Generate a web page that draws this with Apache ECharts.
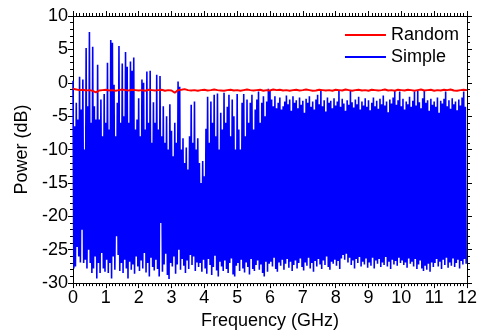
<!DOCTYPE html>
<html><head><meta charset="utf-8">
<script src="https://cdn.jsdelivr.net/npm/echarts@6/dist/echarts.min.js"></script>
<style>html,body{margin:0;padding:0;background:#fff}#c{width:480px;height:335px}</style>
</head><body><div id="c"></div>
<script>
// Frequency step of the read-off samples (GHz)
const step = 0.05;
// "Simple" series: local maxima, one every 0.05 GHz
const simplePeaks = [
0.3,-6.5,-3,-5.5,0.9,-4,0.5,-10,5.2,-3.5,7.6,-6,5.4,-3.5,-5.5,2.7,-5.5,-2.5,-8,-1.7,
-6,3.0,-7,6.4,6.0,-0.3,-8,-3,5.5,-6,2.9,-5,4.6,2.4,-6,3.2,1.8,3.8,-7,-5.5,
-2.3,-8,0.5,0,-7,1.7,-6,1.8,-9,-2.9,-6,1.2,-7,1.0,-8,-3.5,-9,-5,-10,-3.2,
-7.2,-11,-6,-9,0.2,-0.6,-10,-8.3,-12,-9.7,-13,-8,-3.3,-9,-2.8,-10,-8.3,-12,-15,-11.7,
-14,-6.9,-2.1,-9,-2.8,-6,-1.8,-8,-1.6,-10,-4.5,-7,-1.5,-6,-3.6,-1.8,-8,-2.5,-5,-10,
-1.7,-7,-10,-3,-1.7,-8,-2.5,-6,-3,-1.8,-7,-4,-2.5,-1.3,-6,-3,-2,-5,-2.8,-0.9,
-1.2,-2.5,-3.5,-2,-3.8,-3,-2.2,-4,-3.5,-2.8,-1.9,-3.2,-2.5,-4.2,-2,-3,-2.6,-3.8,-2.2,-3.3,
-2.7,-4.5,-2.4,-3,-2,-3.6,-2.8,-4,-2.5,-1.8,-3.2,-1.1,-3.5,-2.6,-4.3,-2.2,-3,-2.7,-3.8,-2.3,
-3.4,-2.8,-1.2,-3.6,-2.4,-3.1,-4.2,-2.6,-3.3,-1.2,-2.9,-3.7,-2.5,-3.2,-2.1,-4,-2.8,-3.4,-2.3,-3.6,
-2.6,-4.1,-3,-2.2,-3.5,-2.7,-3.9,-2.4,-3.2,-1.9,-3.4,-2.8,-4.4,-2.5,-3.1,-2.2,-1.2,-3.3,-2.6,-1.3,
-3.5,-2.4,-4,-2.8,-3.2,-2.1,-3.6,-2.7,-1.3,-3.4,-1.1,-2.9,-3.8,-2.3,-1.2,-3,-2.6,-4.2,-2.4,-3.3,
-2.8,-3.6,-2.2,-4.5,-2.7,-3.1,-2.4,-1.3,-3.5,-2.6,-3.9,-2.3,-3.2,-2.8,-4.1,-2.5,-3.4,-2.2,-1.3,-3.6
];
// "Simple" series: local minima, half a step after each peak
const simpleTroughs = [
-27.8,-27.5,-24.6,-26,-26.9,-22,-27,-26.5,-27.8,-25,-27,-28.5,-27.8,-26,-29.3,-27,-28.5,-25.5,-27.8,-28.3,
-26.5,-28.5,-27,-29.3,-26,-28,-23,-25.8,-28.2,-27,-28.5,-26.5,-27.8,-29.3,-26.8,-28,-27.2,-28.6,-26,-27.5,
-28.2,-26.6,-27.8,-25.5,-28.4,-27,-29,-26.2,-27.6,-28.1,-26.5,-27.9,-29,-21,-28.3,-27.2,-25.6,-28.8,-29.4,-27,
-27.5,-26,-28.6,-27.2,-25,-28,-26.4,-27.4,-28.5,-26.6,-27.9,-25.8,-27.3,-26,-28.2,-26.9,-27.6,-27,-28.3,-26.5,
-27.8,-28.6,-26.4,-27.3,-28.8,-27.6,-25.9,-28.1,-29,-26.8,-27.5,-28.2,-26.6,-27.9,-28.5,-27,-26.3,-28.7,-29,-27.4,
-27,-28.2,-26.5,-27.8,-28.4,-26.9,-27.6,-28.7,-26.4,-27.9,-28.2,-27.3,-26.6,-28,-27.2,-28.5,-29,-26.8,-28.3,-27.1,
-26.8,-27.5,-26.2,-27.9,-28.3,-26.9,-27.4,-26.5,-28,-27.1,-26.4,-27.7,-26.8,-28.2,-27.3,-26.6,-27.8,-27,-26.3,-27.6,
-28.1,-26.9,-27.4,-26.2,-27.8,-27,-28.3,-26.7,-27.5,-26.4,-27.2,-27.9,-26.6,-27.3,-26,-27.6,-28,-26.8,-27.1,-26.5,
-27.4,-26.7,-27.9,-26.3,-25.8,-26.5,-25.6,-26.9,-26.2,-27.3,-26.6,-27.8,-26.4,-27,-26.1,-27.5,-26.8,-27.2,-26.3,-27.7,
-26.9,-27.4,-26.2,-27.8,-26.6,-27.1,-26.4,-27.6,-26.9,-27.3,-26.1,-27.5,-26.8,-27.9,-26.5,-27.2,-26.7,-27.4,-26.2,-27,
-26.6,-27.3,-26.9,-27.7,-26.3,-27.1,-26.8,-27.5,-26.4,-27.9,-27.2,-26.6,-27.8,-28.2,-27.4,-28,-27.1,-28.3,-26.9,-27.6,
-27,-26.4,-27.5,-26.8,-27.9,-26.5,-27.3,-26.2,-27.7,-26.9,-27.4,-26.3,-27.6,-27,-26.5,-27.8,-26.7,-27.2,-26.4,-27.1
];
// "Random" series, one value every 0.1 GHz
const randomStep = 0.1;
const randomVals = [
-0.9,-1.0,-1.1,-1.05,-1.15,-1.1,-1.2,-1.45,-1.15,-1.1,-1.05,-1.15,-1.1,-1.2,-1.1,-1.0,-1.1,-1.15,-1.05,-1.1,
-1.15,-1.1,-1.2,-1.05,-1.1,-1.15,-1.1,-1.05,-1.2,-1.1,-1.15,-1.5,-1.1,-1.05,-0.95,-1.1,-1.15,-1.1,-1.2,-1.1,
-1.05,-1.15,-1.1,-1.0,-1.1,-1.15,-1.2,-1.1,-1.05,-1.15,-1.1,-1.2,-1.1,-1.0,-1.1,-1.15,-1.1,-1.05,-1.2,-1.1,
-1.15,-1.0,-1.1,-1.05,-1.15,-1.1,-1.2,-1.1,-1.05,-1.15,-1.1,-1.0,-1.1,-1.2,-1.15,-1.05,-1.1,-1.15,-1.1,-1.2,
-1.05,-1.1,-1.15,-1.0,-1.1,-1.2,-1.1,-1.05,-1.15,-1.1,-1.2,-1.05,-1.1,-1.15,-1.1,-1.0,-1.15,-1.1,-1.2,-1.05,
-1.1,-1.15,-1.05,-1.1,-1.2,-1.1,-1.0,-1.15,-1.1,-1.05,-1.2,-1.1,-1.15,-1.05,-1.1,-1.0,-1.15,-1.2,-1.1,-1.05,-1.1
];
const xTicks = [0,1,2,3,4,5,6,7,8,9,10,11,12];
const yTicks = [10,5,0,-5,-10,-15,-20,-25,-30];

const simpleData = [];
for (let i = 0; i < simplePeaks.length; i++) {
  simpleData.push([i*step, simplePeaks[i]]);
  simpleData.push([i*step + step/2, simpleTroughs[i]]);
}
const randomData = randomVals.map((v,i)=>[i*randomStep, v]);

const font = 'Liberation Sans, Arial, Helvetica, sans-serif';
const lineBlack = {show:true,onZero:false,lineStyle:{color:'#000',width:1}};
const tickOut = {show:true,inside:false,length:5,lineStyle:{color:'#000'}};
const chart = echarts.init(document.getElementById('c'), null, {renderer:'canvas'});
chart.setOption({
  animation:false,
  backgroundColor:'#fff',
  grid:{left:73,right:9,top:16,bottom:50,containLabel:false},
  legend:{
    data:['Random','Simple'], orient:'vertical', right:16, top:21,
    itemWidth:41, itemHeight:2, itemGap:4, icon:'rect',
    textStyle:{fontFamily:font,fontSize:18,color:'#000',padding:[0,0,0,0]}
  },
  xAxis:[
    {type:'value',min:xTicks[0],max:xTicks[xTicks.length-1],interval:1,position:'bottom',
      axisLine:lineBlack,axisTick:tickOut,splitLine:{show:false},
      minorTick:{show:true,splitNumber:10,length:3,lineStyle:{color:'#000'}},
      name:'Frequency (GHz)',nameLocation:'middle',nameGap:28,
      nameTextStyle:{fontFamily:font,fontSize:18,color:'#000'},
      axisLabel:{fontFamily:font,fontSize:18,color:'#000',margin:6}},
    {type:'value',min:0,max:12,interval:1,position:'top',
      axisLine:lineBlack,axisTick:tickOut,
      minorTick:{show:true,splitNumber:10,length:3,lineStyle:{color:'#000'}},
      axisLabel:{show:false},splitLine:{show:false}}
  ],
  yAxis:[
    {type:'value',min:yTicks[yTicks.length-1],max:yTicks[0],interval:5,position:'left',
      axisLine:lineBlack,axisTick:tickOut,
      minorTick:{show:true,splitNumber:5,length:3,lineStyle:{color:'#000'}},
      splitLine:{show:false},
      name:'Power (dB)',nameLocation:'middle',nameGap:42,nameRotate:90,
      nameTextStyle:{fontFamily:font,fontSize:18,color:'#000'},
      axisLabel:{fontFamily:font,fontSize:18,color:'#000',margin:5}},
    {type:'value',min:-30,max:10,interval:5,position:'right',
      axisLine:lineBlack,axisTick:tickOut,
      minorTick:{show:true,splitNumber:5,length:3,lineStyle:{color:'#000'}},
      axisLabel:{show:false},splitLine:{show:false}}
  ],
  series:[
    {name:'Simple',type:'line',data:simpleData,showSymbol:false,symbol:'none',
      lineStyle:{color:'#0000ff',width:1.6},itemStyle:{color:'#0000ff'},z:2},
    {name:'Random',type:'line',data:randomData,showSymbol:false,symbol:'none',
      lineStyle:{color:'#ff0000',width:2},itemStyle:{color:'#ff0000'},z:3}
  ]
});
</script></body></html>
